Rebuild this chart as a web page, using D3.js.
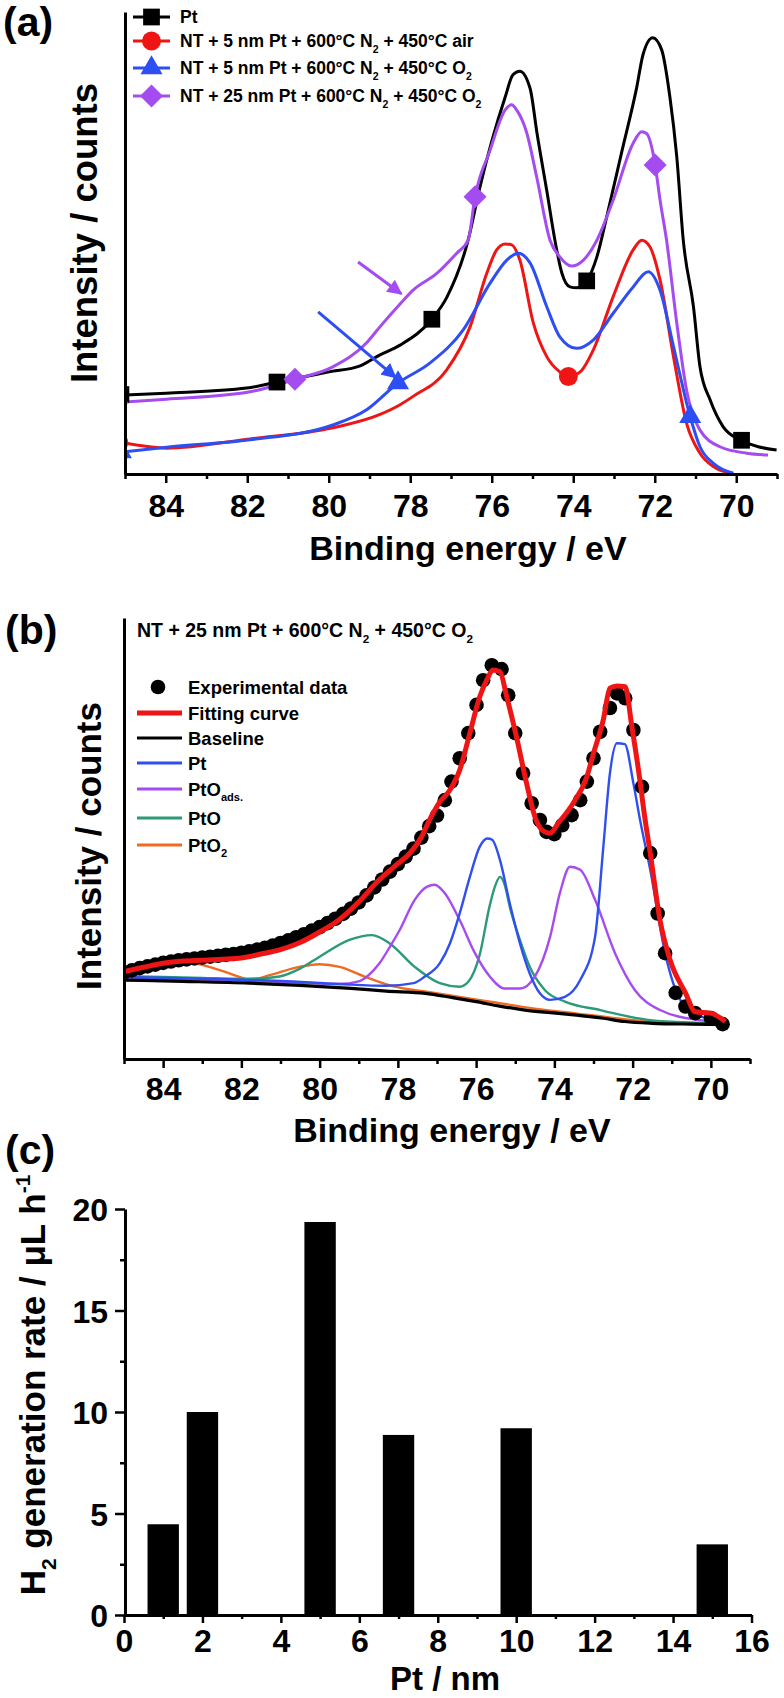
<!DOCTYPE html>
<html><head><meta charset="utf-8">
<script src="https://cdn.jsdelivr.net/npm/d3@7"></script>
<style>
body{margin:0;background:#fff}
svg{display:block}
text{font-family:"Liberation Sans",Arial,sans-serif;font-weight:bold;fill:#000}
</style>
</head><body>
<svg id="chart" width="784" height="1698"></svg>
<script>
// ---------------- Panel (a) data : Pt 4f XPS spectra ----------------
const xMajorA = [84, 82, 80, 78, 76, 74, 72, 70];
const xMinorA = [85, 83, 81, 79, 77, 75, 73, 71, 69];
const seriesNamesA = ["Pt", "air", "o2", "nt25"];
const legendA = [
  [["Pt"]],
  [["NT + 5 nm Pt + 600°C N"], ["2", "sub"], [" + 450°C air"]],
  [["NT + 5 nm Pt + 600°C N"], ["2", "sub"], [" + 450°C O"], ["2", "sub"]],
  [["NT + 25 nm Pt + 600°C N"], ["2", "sub"], [" + 450°C O"], ["2", "sub"]]
];
const ptCurve = [[85.0,17.1],[83.99,17.5],[82.01,18.6],[81.27,19.9],[79.99,22.1],[79.23,23.4],[78.74,25.8],[78.25,27.9],[77.47,33.5],[77.10,38.3],[76.58,50.6],[76.29,62.1],[75.67,81.6],[75.48,86.4],[75.31,87.2],[75.06,83.5],[74.89,73.8],[74.64,60.8],[74.45,50.6],[74.28,43.5],[74.08,40.5],[73.92,40.3],[73.67,41.8],[73.42,47.0],[73.18,55.6],[72.80,70.1],[72.44,83.8],[72.29,90.7],[72.05,94.4],[71.83,91.8],[71.63,81.7],[71.46,68.7],[71.30,50.6],[71.05,36.2],[70.89,23.2],[70.64,16.0],[70.32,10.2],[69.91,7.4],[69.01,5.2]];
const airCurve = [[85.0,6.7],[83.98,5.6],[81.93,7.6],[79.90,10.0],[78.74,12.9],[78.25,15.0],[77.93,16.8],[77.11,22.5],[76.53,31.9],[76.12,43.5],[75.88,48.5],[75.67,49.8],[75.51,49.6],[75.31,46.3],[74.98,32.7],[74.65,25.4],[74.33,22.1],[74.12,21.1],[73.83,22.1],[73.51,26.8],[73.02,38.4],[72.53,48.5],[72.32,50.6],[72.12,49.2],[71.87,42.0],[71.54,25.4],[71.22,11.0],[70.89,4.5],[70.56,1.6],[70.15,0.15]];
const o2Curve = [[85.0,4.8],[83.98,5.8],[81.93,7.4],[79.90,10.6],[79.07,13.9],[78.30,19.7],[77.52,24.0],[76.70,31.2],[76.04,41.3],[75.63,46.3],[75.35,47.8],[75.06,45.7],[74.65,36.2],[74.33,29.7],[73.92,27.2],[73.51,29.0],[73.02,34.8],[72.53,40.5],[72.16,43.8],[71.87,39.8],[71.54,27.6],[71.13,12.4],[70.89,5.9],[70.56,2.3],[70.07,0.15]];
const nt25Curve = [[85.0,15.6],[83.98,16.2],[81.93,17.8],[80.83,20.5],[79.90,23.2],[79.07,28.4],[78.74,31.9],[78.25,36.8],[77.93,39.8],[77.35,43.4],[76.86,47.8],[76.58,50.6],[76.41,60.0],[76.04,70.1],[75.67,78.8],[75.51,79.9],[75.39,78.8],[75.14,73.8],[74.90,64.4],[74.57,50.6],[74.33,47.0],[74.04,45.0],[73.75,46.3],[73.42,50.6],[73.02,59.3],[72.53,71.6],[72.32,74.1],[72.20,73.7],[71.99,66.9],[71.87,59.3],[71.71,50.6],[71.46,32.7],[71.22,18.2],[70.89,9.5],[70.40,5.9],[69.74,4.5],[69.22,4.1]];
const ptMarkers = [[85.1,17.2],[81.27,19.9],[77.47,33.5],[73.67,41.8],[69.87,7.3]];
const airMarkers = [[85.15,6.8],[74.12,21.1]];
const o2Markers = [[85.1,4.8],[78.30,19.7],[71.13,12.4]];
const nt25Markers = [[85.2,15.4],[80.83,20.5],[76.41,60.0],[71.99,66.9]];
// annotation arrows: [from, to] in (eV, intensity)
const arrowNt25 = [[79.28,45.9],[78.22,39.0]];
const arrowO2 = [[80.26,35.1],[78.36,20.9]];

// ---------------- Panel (b) data : peak fitting ----------------
const xMajorB = [84, 82, 80, 78, 76, 74, 72, 70];
const xMinorB = [85, 83, 81, 79, 77, 75, 73, 71, 69];
const titleB = [["NT + 25 nm Pt + 600°C N"], ["2", "sub"], [" + 450°C O"], ["2", "sub"]];
const legendB = [
  [["Experimental data"]],
  [["Fitting curve"]],
  [["Baseline"]],
  [["Pt"]],
  [["PtO"], ["ads.", "sub"]],
  [["PtO"]],
  [["PtO"], ["2", "sub"]]
];
const expData = [[85.0,19.6],[84.8,20.1],[84.6,20.6],[84.4,21.0],[84.2,21.4],[84.0,21.8],[83.8,22.1],[83.6,22.4],[83.4,22.6],[83.2,22.8],[83.0,23.0],[82.8,23.2],[82.6,23.4],[82.4,23.6],[82.2,23.8],[82.0,24.1],[81.8,24.4],[81.6,24.8],[81.4,25.2],[81.2,25.7],[81.0,26.3],[80.8,26.9],[80.6,27.6],[80.4,28.3],[80.2,29.1],[80.0,29.9],[79.8,30.8],[79.6,31.8],[79.4,32.9],[79.2,34.1],[79.0,35.5],[78.8,37.1],[78.6,38.9],[78.4,40.7],[78.2,42.5],[78.0,44.2],[77.8,45.9],[77.6,47.7],[77.4,50.2],[77.2,52.8],[77.0,55.2],[76.8,58.7],[76.63,62.9],[76.42,68.2],[76.2,73.9],[75.99,80.3],[75.82,85.9],[75.6,89.3],[75.35,88.4],[75.18,82.5],[75.0,73.9],[74.8,64.8],[74.58,58.0],[74.37,54.2],[74.2,51.5],[74.0,51.0],[73.8,53.0],[73.56,55.3],[73.34,58.7],[73.17,62.9],[73.0,68.2],[72.83,74.2],[72.58,79.6],[72.4,82.9],[72.19,81.8],[71.98,74.6],[71.76,61.7],[71.55,46.7],[71.36,33.0],[71.17,24.0],[70.9,15.0],[70.65,11.9],[70.4,10.4],[70.0,9.3],[69.7,7.9]];
const fitCurve = [[85.0,19.8],[84.5,20.8],[84.0,21.7],[83.5,22.2],[83.0,22.4],[82.5,22.6],[82.0,22.9],[81.5,23.8],[81.0,24.8],[80.5,26.4],[80.0,28.8],[79.5,31.6],[79.0,35.6],[78.5,40.4],[78.0,44.3],[77.7,46.6],[77.4,50.3],[77.19,54.2],[76.95,58.0],[76.67,61.0],[76.42,65.5],[76.16,73.9],[75.91,82.1],[75.73,85.9],[75.57,88.2],[75.39,87.8],[75.22,82.2],[74.97,73.1],[74.71,62.5],[74.5,55.0],[74.3,51.8],[74.11,51.2],[73.9,53.5],[73.52,58.0],[73.17,64.0],[73.0,69.3],[72.75,76.9],[72.58,84.1],[72.4,84.6],[72.19,84.4],[72.02,75.4],[71.85,65.5],[71.68,54.2],[71.55,46.7],[71.3,31.5],[71.04,22.4],[70.65,15.0],[70.4,10.7],[70.01,10.4],[69.63,8.5]];
const baselineCurve = [[85,17.9],[83.5,17.6],[81.8,17.2],[80.5,16.7],[79.2,16.0],[78.3,15.4],[77.3,14.9],[76.6,13.9],[76.0,13.0],[75.4,12.0],[74.75,11.1],[74.1,10.5],[73.5,10.0],[72.8,9.3],[72.2,8.5],[71.5,8.1],[70.5,7.9],[69.6,7.8]];
const ptComp = [[85,18.6],[83,18.2],[81,17.7],[79.5,17.0],[78.3,16.6],[77.6,17.2],[77.31,18.7],[76.93,21.7],[76.67,26.2],[76.42,33.0],[76.16,41.3],[75.91,48.1],[75.71,50.0],[75.59,49.7],[75.39,45.1],[75.14,35.3],[74.88,26.2],[74.63,19.4],[74.37,14.9],[74.11,13.4],[73.73,14.1],[73.34,17.9],[72.96,27.7],[72.75,48.0],[72.58,64.8],[72.4,71.6],[72.2,71.4],[71.98,62.5],[71.81,54.2],[71.55,42.9],[71.17,24.0],[70.78,13.4],[70.27,9.6],[69.6,8.8]];
const ptOadsComp = [[85,18.4],[83,18.0],[81,17.5],[79.5,17.0],[79.0,17.6],[78.75,19.0],[78.47,21.7],[78.2,25.5],[77.95,29.3],[77.57,36.1],[77.25,39.1],[77.06,39.5],[76.8,37.6],[76.42,31.5],[76.03,24.0],[75.65,18.7],[75.27,16.0],[74.88,16.0],[74.5,18.7],[74.11,27.7],[73.86,37.6],[73.6,43.6],[73.34,42.9],[72.96,36.1],[72.45,24.0],[71.94,15.6],[71.3,11.1],[70.27,8.8],[69.6,8.4]];
const ptOComp = [[85,18.8],[83,18.4],[82,18.2],[81.5,18.3],[81.03,18.7],[80.5,20.5],[80.0,23.2],[79.24,27.0],[78.66,28.1],[78.21,26.2],[77.57,20.9],[76.93,17.2],[76.42,16.4],[76.2,17.5],[75.91,23.6],[75.65,34.9],[75.52,39.1],[75.39,41.3],[75.27,39.5],[75.14,34.5],[74.88,27.0],[74.63,20.9],[74.24,15.6],[73.73,13.0],[72.83,11.1],[71.55,8.8],[70.3,8.2],[69.6,8.0]];
const ptO2Comp = [[85,20.5],[84.5,21.5],[84,22.0],[83.5,22.0],[83.1,21.5],[82.57,20.2],[82.05,18.6],[81.8,17.9],[81.28,19.0],[80.52,20.9],[80.0,21.5],[79.49,20.9],[78.85,18.7],[78.08,16.4],[77.31,15.3],[76.5,14.2],[75.5,12.8],[74.5,11.4],[73.5,10.4],[72.5,9.3],[71.5,8.4],[70.3,8.0],[69.6,7.9]];

// ---------------- Panel (c) data : H2 generation ----------------
const ptThickness = [1, 2, 5, 7, 10, 15];
const h2Rate = [4.47, 10.0, 19.36, 8.87, 9.2, 3.48];
const xMajorC = [0, 2, 4, 6, 8, 10, 12, 14, 16];
const xMinorC = [1, 3, 5, 7, 9, 11, 13, 15];
const yMajorC = [0, 5, 10, 15, 20];
const yMinorC = [2.5, 7.5, 12.5, 17.5];

// ---------------- colours ----------------
const colA = {Pt: "#000000", air: "#f01515", o2: "#2d4ef2", nt25: "#a54cf0"};
const colB = {fit: "#f01515", base: "#000000", pt: "#2f4ff0", ads: "#a64bf0", pto: "#2b9a79", pto2: "#f06a22"};

const svg = d3.select("#chart");
svg.append("rect").attr("width", 784).attr("height", 1698).attr("fill", "#fff");
const defs = svg.append("defs");

function richText(parent, x, y, segs, size, anchor) {
  const t = parent.append("text").attr("x", x).attr("y", y)
    .attr("font-size", size).attr("text-anchor", anchor || "start");
  let shift = 0;
  segs.forEach(([txt, kind]) => {
    const target = kind === "sub" ? size * 0.32 : kind === "sup" ? -size * 0.42 : 0;
    const ts = t.append("tspan").attr("dy", target - shift).text(txt);
    if (kind) ts.attr("font-size", size * 0.6);
    shift = target;
  });
  return t;
}
function styleAxis(g, tickW) {
  g.select(".domain").attr("stroke", "#000").attr("stroke-width", 3);
  g.selectAll(".tick line").attr("stroke", "#000").attr("stroke-width", tickW || 2.5);
}
function styleTickText(g, size) {
  g.selectAll("text").attr("font-size", size)
    .attr("font-family", '"Liberation Sans",Arial,sans-serif').attr("font-weight", "bold").attr("fill", "#000");
}
function panelLabel(txt, x, y) {
  svg.append("text").attr("x", x).attr("y", y).attr("font-size", 41).text(txt);
}

// ======================= PANEL (a) =======================
const xA = d3.scaleLinear().domain([85, 69]).range([125, 777]);
const yA = d3.scaleLinear().domain([0, 100]).range([474, 12]);
defs.append("clipPath").attr("id", "clipA").append("rect").attr("x", 125).attr("y", 0).attr("width", 660).attr("height", 474);

panelLabel("(a)", 3, 36);

const lineA = d3.line().x(d => xA(d[0])).y(d => yA(d[1])).curve(d3.curveMonotoneX);
const plotA = svg.append("g").attr("clip-path", "url(#clipA)");
const curvesA = [[ptCurve, "Pt"], [airCurve, "air"], [o2Curve, "o2"], [nt25Curve, "nt25"]];
curvesA.forEach(([data, key]) => {
  plotA.append("path").datum(data).attr("d", lineA).attr("fill", "none")
    .attr("stroke", colA[key]).attr("stroke-width", 3).attr("stroke-linejoin", "round");
});
const symA = {
  Pt: d3.symbol().type(d3.symbolSquare).size(280),
  air: d3.symbol().type(d3.symbolCircle).size(280),
  o2: d3.symbol().type(d3.symbolTriangle).size(210),
  nt25: d3.symbol().type(d3.symbolSquare).size(265)
};
const rotA = {Pt: 0, air: 0, o2: 0, nt25: 45};
[[ptMarkers, "Pt"], [airMarkers, "air"], [o2Markers, "o2"], [nt25Markers, "nt25"]].forEach(([data, key]) => {
  plotA.selectAll(null).data(data).enter().append("path")
    .attr("d", symA[key]())
    .attr("transform", d => `translate(${xA(d[0])},${yA(d[1])}) rotate(${rotA[key]})`)
    .attr("fill", colA[key]);
});
// arrows
[[arrowNt25, "nt25"], [arrowO2, "o2"]].forEach(([ar, key]) => {
  const id = "arrow-" + key;
  defs.append("marker").attr("id", id).attr("viewBox", "0 0 10 10").attr("refX", 9).attr("refY", 5)
    .attr("markerWidth", 17).attr("markerHeight", 15).attr("markerUnits", "userSpaceOnUse").attr("orient", "auto")
    .append("path").attr("d", "M0,0 L10,5 L0,10 Z").attr("fill", colA[key]);
  svg.append("line").attr("x1", xA(ar[0][0])).attr("y1", yA(ar[0][1]))
    .attr("x2", xA(ar[1][0])).attr("y2", yA(ar[1][1]))
    .attr("stroke", colA[key]).attr("stroke-width", 3).attr("marker-end", `url(#${id})`);
});

const gxA = svg.append("g").attr("transform", "translate(0,474)")
  .call(d3.axisBottom(xA).tickValues(xMajorA).tickSize(9).tickSizeOuter(0).tickFormat(d3.format("d")));
styleAxis(gxA);
gxA.selectAll("text").attr("y", 43).attr("dy", 0);
styleTickText(gxA, 32);
const gxAm = svg.append("g").attr("transform", "translate(0,474)")
  .call(d3.axisBottom(xA).tickValues(xMinorA).tickSize(5).tickSizeOuter(0).tickFormat(""));
styleAxis(gxAm); gxAm.select(".domain").remove();
const gyA = svg.append("g").attr("transform", "translate(125,0)")
  .call(d3.axisLeft(yA).tickValues([]).tickSizeOuter(0));
styleAxis(gyA);

svg.append("text").attr("x", 468).attr("y", 560).attr("text-anchor", "middle").attr("font-size", 34).text("Binding energy / eV");
svg.append("text").attr("transform", "translate(97,233) rotate(-90)").attr("text-anchor", "middle").attr("font-size", 36.5).text("Intensity / counts");

// legend (a)
const legYA = [17, 41, 68, 96];
seriesNamesA.forEach((key, i) => {
  const y = legYA[i];
  svg.append("line").attr("x1", 133).attr("x2", 170).attr("y1", y).attr("y2", y).attr("stroke", colA[key]).attr("stroke-width", 3);
  svg.append("path").attr("d", symA[key]()).attr("transform", `translate(151.5,${y}) rotate(${rotA[key]})`).attr("fill", colA[key]);
  richText(svg, 180, y + 6, legendA[i], 17.5);
});

// ======================= PANEL (b) =======================
const xB = d3.scaleLinear().domain([85, 69]).range([124, 750]);
const yB = d3.scaleLinear().domain([0, 100]).range([1059, 618]);
defs.append("clipPath").attr("id", "clipB").append("rect").attr("x", 124).attr("y", 600).attr("width", 640).attr("height", 459);

panelLabel("(b)", 5, 644);
richText(svg, 137, 637, titleB, 19.5);

const lineB = d3.line().x(d => xB(d[0])).y(d => yB(d[1])).curve(d3.curveMonotoneX);
const plotB = svg.append("g").attr("clip-path", "url(#clipB)");
[[ptO2Comp, "pto2"], [ptOComp, "pto"], [ptOadsComp, "ads"], [ptComp, "pt"]].forEach(([data, key]) => {
  plotB.append("path").datum(data).attr("d", lineB).attr("fill", "none")
    .attr("stroke", colB[key]).attr("stroke-width", 2.4).attr("stroke-linejoin", "round");
});
plotB.append("path").datum(baselineCurve).attr("d", lineB).attr("fill", "none")
  .attr("stroke", colB.base).attr("stroke-width", 3.2);
plotB.selectAll(null).data(expData).enter().append("circle")
  .attr("cx", d => xB(d[0])).attr("cy", d => yB(d[1])).attr("r", 7.3).attr("fill", "#000");
plotB.append("path").datum(fitCurve).attr("d", lineB).attr("fill", "none")
  .attr("stroke", colB.fit).attr("stroke-width", 5).attr("stroke-linejoin", "round");

const gxB = svg.append("g").attr("transform", "translate(0,1059)")
  .call(d3.axisBottom(xB).tickValues(xMajorB).tickSize(9).tickSizeOuter(0).tickFormat(d3.format("d")));
styleAxis(gxB);
gxB.selectAll("text").attr("y", 41).attr("dy", 0);
styleTickText(gxB, 32);
const gxBm = svg.append("g").attr("transform", "translate(0,1059)")
  .call(d3.axisBottom(xB).tickValues(xMinorB).tickSize(5).tickSizeOuter(0).tickFormat(""));
styleAxis(gxBm); gxBm.select(".domain").remove();
const gyB = svg.append("g").attr("transform", "translate(124,0)")
  .call(d3.axisLeft(yB).tickValues([]).tickSizeOuter(0));
styleAxis(gyB);

svg.append("text").attr("x", 452).attr("y", 1142).attr("text-anchor", "middle").attr("font-size", 34).text("Binding energy / eV");
svg.append("text").attr("transform", "translate(101,846) rotate(-90)").attr("text-anchor", "middle").attr("font-size", 35).text("Intensity / counts");

// legend (b)
const legYB = [687, 713, 738, 763, 789, 818, 845];
const legKeysB = ["exp", "fit", "base", "pt", "ads", "pto", "pto2"];
legKeysB.forEach((key, i) => {
  const y = legYB[i];
  if (key === "exp") {
    svg.append("circle").attr("cx", 158).attr("cy", y).attr("r", 7.3).attr("fill", "#000");
  } else {
    svg.append("line").attr("x1", 137).attr("x2", 182).attr("y1", y).attr("y2", y)
      .attr("stroke", colB[key]).attr("stroke-width", key === "fit" ? 5 : 3);
  }
  richText(svg, 188, y + 6.5, legendB[i], 18.5);
});

// ======================= PANEL (c) =======================
const xC = d3.scaleLinear().domain([0, 16]).range([124, 751.5]);
const yC = d3.scaleLinear().domain([0, 20]).range([1615, 1209]);

panelLabel("(c)", 5, 1164);

svg.selectAll(null).data(ptThickness).enter().append("rect")
  .attr("x", d => xC(d - 0.4)).attr("width", d => xC(d + 0.4) - xC(d - 0.4))
  .attr("y", (d, i) => yC(h2Rate[i])).attr("height", (d, i) => yC(0) - yC(h2Rate[i]))
  .attr("fill", "#000");

const gxC = svg.append("g").attr("transform", "translate(0,1615)")
  .call(d3.axisBottom(xC).tickValues(xMajorC).tickSize(8).tickSizeOuter(0).tickFormat(d3.format("d")));
styleAxis(gxC);
gxC.selectAll("text").attr("y", 37).attr("dy", 0);
styleTickText(gxC, 32);
const gxCm = svg.append("g").attr("transform", "translate(0,1615)")
  .call(d3.axisBottom(xC).tickValues(xMinorC).tickSize(4).tickSizeOuter(0).tickFormat(""));
styleAxis(gxCm); gxCm.select(".domain").remove();

const gyC = svg.append("g").attr("transform", "translate(125,0)")
  .call(d3.axisLeft(yC).tickValues(yMajorC).tickSize(10).tickSizeOuter(0).tickFormat(d3.format("d")));
styleAxis(gyC);
gyC.selectAll("text").attr("x", -17).attr("dy", "0.36em");
styleTickText(gyC, 32);
const gyCm = svg.append("g").attr("transform", "translate(125,0)")
  .call(d3.axisLeft(yC).tickValues(yMinorC).tickSize(5).tickSizeOuter(0).tickFormat(""));
styleAxis(gyCm); gyCm.select(".domain").remove();

svg.append("text").attr("x", 445).attr("y", 1690).attr("text-anchor", "middle").attr("font-size", 33).text("Pt / nm");
const gTitleC = svg.append("g").attr("transform", "translate(45,1385) rotate(-90)");
richText(gTitleC, 0, 0, [["H"], ["2", "sub"], [" generation rate / μL h"], ["-1", "sup"]], 35, "middle");
</script>
</body></html>
